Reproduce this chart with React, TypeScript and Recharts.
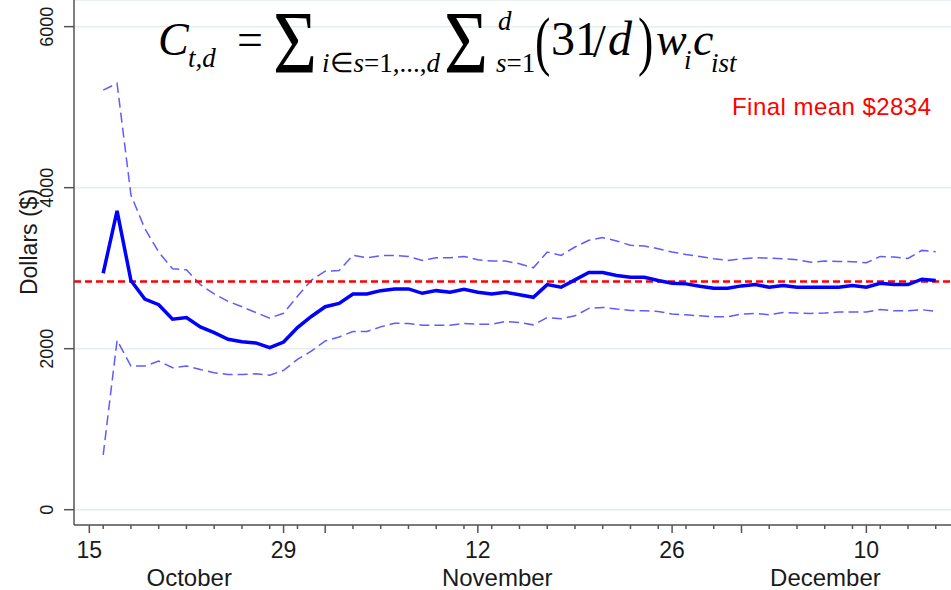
import React from 'react';
import { LineChart, Line, XAxis, YAxis, CartesianGrid, ReferenceLine } from 'recharts';

// Day offsets from 15 October (1 = Oct 16 ... 61 = Dec 15)
const dayOffsets: number[] = Array.from({ length: 61 }, (_, i) => i + 1);

const meanValues: number[] = [
  2937, 3712, 2846, 2617, 2546, 2367, 2387, 2271, 2200, 2117, 2087, 2071, 2012, 2083, 2262, 2400,
  2521, 2563, 2680, 2680, 2721, 2742, 2742, 2688, 2721, 2700, 2738, 2700, 2680, 2700, 2671, 2638,
  2796, 2763, 2855, 2946, 2946, 2910, 2888, 2888, 2846, 2813, 2805, 2775, 2750, 2750,
  2780, 2796, 2763, 2784, 2763, 2763, 2763, 2763, 2784, 2763, 2813, 2796, 2796, 2863, 2846,
];

const upperValues: number[] = [
  5212, 5296, 3909, 3492, 3200, 2992, 2980, 2796, 2680, 2588, 2521, 2450, 2380, 2440, 2650, 2850,
  2963, 2971, 3159, 3130, 3155, 3159, 3146, 3096, 3130, 3130, 3146, 3105, 3088, 3088, 3055, 3005,
  3200, 3159, 3263, 3346, 3380, 3338, 3284, 3275, 3242, 3200, 3171, 3146, 3117, 3096,
  3117, 3130, 3125, 3117, 3105, 3075, 3088, 3084, 3080, 3067, 3146, 3138, 3121, 3221, 3205,
];

const lowerValues: number[] = [
  680, 2105, 1784, 1784, 1846, 1763, 1784, 1742, 1700, 1680, 1680, 1688, 1671, 1730, 1867, 1970,
  2096, 2146, 2213, 2213, 2271, 2317, 2313, 2292, 2292, 2292, 2313, 2305, 2305, 2338, 2325, 2296,
  2388, 2371, 2408, 2500, 2513, 2492, 2475, 2471, 2463, 2430, 2421, 2408, 2396, 2396,
  2430, 2438, 2421, 2450, 2442, 2438, 2442, 2455, 2455, 2455, 2488, 2471, 2471, 2484, 2463,
];

const finalMean = 2834;

const majorTicks: number[] = [0, 14, 28, 42, 56];
const majorLabels: string[] = ['15', '29', '12', '26', '10'];
const monthStartTicks: number[] = [17, 47];
const minorTicks: number[] = Array.from({ length: 31 }, (_, i) => 2 * i + 1);
const monthTickPos: number[] = [7.2, 29.4, 53.05];
const monthNames: string[] = ['October', 'November', 'December'];

const yTicks: number[] = [0, 2000, 4000, 6000];

const data = dayOffsets.map((d, i) => ({
  day: d,
  mean: meanValues[i],
  upper: upperValues[i],
  lower: lowerValues[i],
}));

const allXTicks = Array.from(new Set([...majorTicks, ...minorTicks, ...monthTickPos])).sort((a, b) => a - b);

const SANS = '"Liberation Sans", Arial, Helvetica, sans-serif';
const SERIF = '"Liberation Serif", "Times New Roman", serif';
const AXIS = '#555555';

const near = (a: number, b: number) => Math.abs(a - b) < 1e-6;

const XTick = (props: any) => {
  const { x, y, payload } = props;
  const v = payload.value as number;
  const mo = monthTickPos.findIndex((m) => near(m, v));
  if (mo >= 0) {
    return (
      <text x={x} y={y + 61} textAnchor="middle" fontSize={24} fontFamily={SANS} fill="#1a1a1a">
        {monthNames[mo]}
      </text>
    );
  }
  const mi = majorTicks.findIndex((m) => near(m, v));
  const isLong = mi >= 0 || monthStartTicks.some((m) => near(m, v));
  const len = isLong ? 8 : 4;
  return (
    <g>
      <line x1={x} x2={x} y1={y} y2={y + len} stroke={AXIS} strokeWidth={1.5} />
      {mi >= 0 && (
        <text x={x} y={y + 33} textAnchor="middle" fontSize={23} fontFamily={SANS} fill="#1a1a1a">
          {majorLabels[mi]}
        </text>
      )}
    </g>
  );
};

const YTick = (props: any) => {
  const { x, y, payload } = props;
  return (
    <g>
      <line x1={x - 10} x2={x} y1={y} y2={y} stroke={AXIS} strokeWidth={1.5} />
      <text
        x={53}
        y={y}
        transform={`rotate(-90 53 ${y})`}
        textAnchor="middle"
        fontSize={18}
        fontFamily={SANS}
        fill="#1a1a1a"
      >
        {payload.value}
      </text>
    </g>
  );
};

const Formula = () => (
  <svg
    width={951}
    height={130}
    style={{ position: 'absolute', left: 0, top: 0, pointerEvents: 'none' }}
  >
    <g fontFamily={SERIF} fill="#000">
      <text x={158} y={55} fontSize={46} fontStyle="italic">C</text>
      <text x={188} y={67} fontSize={27} fontStyle="italic">t,d</text>
      <text x={237} y={55} fontSize={46}>=</text>
      <text transform="translate(273 72) scale(0.85 1)" x={0} y={0} fontSize={89}>Σ</text>
      <text x={322} y={72} fontSize={27}>
        <tspan fontStyle="italic">i</tspan>∈<tspan fontStyle="italic">s</tspan>=1,...,<tspan fontStyle="italic">d</tspan>
      </text>
      <text transform="translate(444 72) scale(0.85 1)" x={0} y={0} fontSize={89}>Σ</text>
      <text x={498} y={30} fontSize={27} fontStyle="italic">d</text>
      <text x={496} y={72} fontSize={27}>
        <tspan fontStyle="italic">s</tspan>=1
      </text>
      <text transform="translate(535 63) scale(0.7 1)" x={0} y={0} fontSize={66}>(</text>
      <text x={551} y={55} fontSize={48}>31</text>
      <text x={593} y={57} fontSize={46}>/</text>
      <text x={608} y={55} fontSize={48} fontStyle="italic">d</text>
      <text transform="translate(638 63) scale(0.7 1)" x={0} y={0} fontSize={66}>)</text>
      <text x={656} y={55} fontSize={46} fontStyle="italic">w</text>
      <text x={684} y={69} fontSize={27} fontStyle="italic">i</text>
      <text x={693} y={55} fontSize={46} fontStyle="italic">c</text>
      <text x={711} y={72} fontSize={27} fontStyle="italic">ist</text>
    </g>
    <text x={732} y={114.5} fontSize={24} textLength={199} lengthAdjust="spacing" fontFamily={SANS} fill="#ff0000">
      Final mean ${finalMean}
    </text>
  </svg>
);

const YLabel = () => (
  <svg width={60} height={590} style={{ position: 'absolute', left: 0, top: 0, pointerEvents: 'none' }}>
    <text
      x={37}
      y={242}
      transform="rotate(-90 37 242)"
      textAnchor="middle"
      fontSize={23}
      fontFamily={SANS}
      fill="#1a1a1a"
    >
      Dollars ($)
    </text>
  </svg>
);

export default function App() {
  return (
    <div style={{ position: 'absolute', left: 0, top: 0, width: 951, height: 590, background: '#ffffff', overflow: 'hidden' }}>
      <LineChart width={951} height={590} data={data} margin={{ top: 0, right: 0, bottom: 0, left: 0 }}>
        <CartesianGrid vertical={false} stroke="#e4edf0" strokeWidth={1.5} />
        <XAxis
          dataKey="day"
          type="number"
          domain={[-1.104, 62.1]}
          allowDataOverflow
          ticks={allXTicks}
          interval={0}
          height={65}
          tick={<XTick />}
          tickLine={false}
          tickSize={0}
          tickMargin={0}
          axisLine={{ stroke: AXIS, strokeWidth: 1.5 }}
        />
        <YAxis
          type="number"
          domain={[-190, 6331]}
          allowDataOverflow
          ticks={yTicks}
          interval={0}
          width={74}
          tick={<YTick />}
          tickLine={false}
          tickSize={0}
          tickMargin={0}
          axisLine={{ stroke: AXIS, strokeWidth: 1.5 }}
        />
        <Line
          type="linear"
          dataKey="upper"
          stroke="#5c5cff"
          strokeWidth={1.5}
          strokeDasharray="10 5"
          dot={false}
          isAnimationActive={false}
        />
        <Line
          type="linear"
          dataKey="lower"
          stroke="#5c5cff"
          strokeWidth={1.5}
          strokeDasharray="10 5"
          dot={false}
          isAnimationActive={false}
        />
        <ReferenceLine y={finalMean} stroke="#ff0000" strokeWidth={2.5} strokeDasharray="7 4" />
        <Line
          type="linear"
          dataKey="mean"
          stroke="#0000ff"
          strokeWidth={3.5}
          dot={false}
          isAnimationActive={false}
        />
      </LineChart>
      <YLabel />
      <Formula />
    </div>
  );
}
